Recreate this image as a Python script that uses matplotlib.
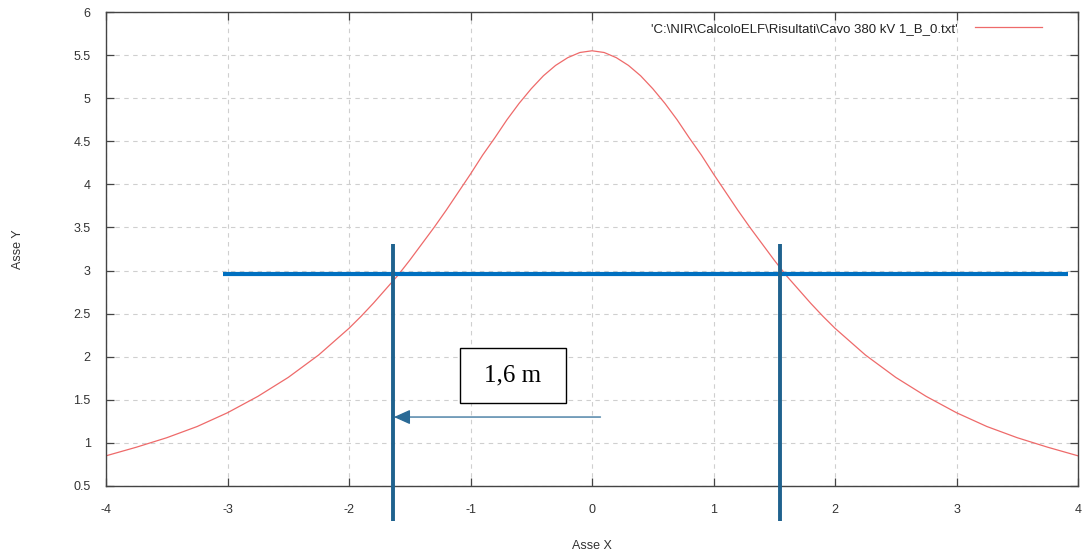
"""Profilo di campo con fascia di rispetto (stile gnuplot)."""

import matplotlib.pyplot as plt
from matplotlib.patches import Rectangle

# Valori
X_VALUES = [-4.0, -3.75, -3.5, -3.25, -3.0, -2.75, -2.5, -2.25,
            -2.0, -1.9, -1.8, -1.7, -1.6, -1.5, -1.4, -1.3, -1.2, -1.1,
            -1.0, -0.9, -0.8, -0.7, -0.6, -0.5, -0.4, -0.3, -0.2, -0.1,
            0.0, 0.1, 0.2, 0.3, 0.4, 0.5, 0.6, 0.7, 0.8, 0.9,
            1.0, 1.1, 1.2, 1.3, 1.4, 1.5, 1.6, 1.7, 1.8, 1.9,
            2.0, 2.25, 2.5, 2.75, 3.0, 3.25, 3.5, 3.75, 4.0]
Y_VALUES = [0.85, 0.95, 1.06, 1.19, 1.35, 1.54, 1.76, 2.02,
            2.33, 2.47, 2.62, 2.78, 2.94, 3.12, 3.31, 3.50, 3.70, 3.91,
            4.12, 4.34, 4.54, 4.75, 4.94, 5.11, 5.26, 5.38, 5.47, 5.53,
            5.55, 5.53, 5.47, 5.38, 5.26, 5.11, 4.94, 4.75, 4.54, 4.34,
            4.12, 3.91, 3.70, 3.50, 3.31, 3.12, 2.94, 2.78, 2.62, 2.47,
            2.33, 2.02, 1.76, 1.54, 1.35, 1.19, 1.06, 0.95, 0.85]
SERIES_LABEL = r"'C:\NIR\CalcoloELF\Risultati\Cavo 380 kV 1_B_0.txt'"

THRESHOLD = 2.96
THRESHOLD_X = [-3.04, 3.92]
LIMIT_X = [-1.64, 1.55]
LIMIT_Y = [0.09, 3.31]
ARROW_Y = 1.30
ARROW_START = 0.07
DISTANCE_LABEL = "1,6 m"
DISTANCE_POS = (-0.65, 1.78)
DISTANCE_BOX = (0.87, 0.64)

X_TICKS = [-4, -3, -2, -1, 0, 1, 2, 3, 4]
Y_TICKS = [0.5, 1, 1.5, 2, 2.5, 3, 3.5, 4, 4.5, 5, 5.5, 6]

plt.rcParams["font.family"] = ["Liberation Sans", "DejaVu Sans"]

fig = plt.figure(figsize=(10.82, 5.53), dpi=100)
ax = fig.add_axes([0.098, 0.1212, 0.8983, 0.8571])

ax.plot(X_VALUES, Y_VALUES, color="#ee6a6a", lw=0.9, label=SERIES_LABEL)

ax.set_xlim(-4, 4)
ax.set_ylim(0.5, 6)
ax.set_xticks(X_TICKS, [str(t) for t in X_TICKS])
ax.set_yticks(Y_TICKS, [f"{t:g}" for t in Y_TICKS])
ax.tick_params(direction="in", length=6, width=0.9, color="#444444",
               top=True, right=True, labelsize=9, labelcolor="#333333")
ax.tick_params(axis="x", pad=13)
ax.tick_params(axis="y", pad=11)
for spine in ax.spines.values():
    spine.set_color("#444444")
    spine.set_linewidth(1.0)
ax.grid(True, color="#cfcfcf", linestyle=(0, (4, 4)), lw=0.8)
ax.set_axisbelow(True)

ax.set_xlabel("Asse X", fontsize=9, color="#333333", labelpad=17)
ax.set_ylabel("Asse Y", fontsize=9, color="#333333", labelpad=36)

leg = ax.legend(loc="upper right", bbox_to_anchor=(0.974, 1.0), frameon=False,
                fontsize=9.5, handlelength=5.1, markerfirst=False,
                borderaxespad=0.4, handletextpad=1.3)
for text in leg.get_texts():
    text.set_color("#222222")

# annotazioni sovrapposte
ax.plot(THRESHOLD_X, [THRESHOLD, THRESHOLD], color="#0070c0", lw=3.0,
        solid_capstyle="butt", zorder=4)
for xv in LIMIT_X:
    ax.plot([xv, xv], LIMIT_Y, color="#1f628e", lw=2.8, solid_capstyle="butt",
            clip_on=False, zorder=5)
ax.annotate("", xy=(LIMIT_X[0] + 0.01, ARROW_Y), xytext=(ARROW_START, ARROW_Y),
            arrowprops=dict(arrowstyle="-|>,head_length=1.0,head_width=0.45",
                            color="#2a6a96", lw=0.9, shrinkA=0, shrinkB=0),
            zorder=5)
box_w, box_h = DISTANCE_BOX
ax.add_patch(Rectangle((DISTANCE_POS[0] - box_w / 2, DISTANCE_POS[1] - box_h / 2),
                       box_w, box_h, facecolor="white", edgecolor="black",
                       lw=1.0, zorder=6))
ax.text(*DISTANCE_POS, DISTANCE_LABEL, fontsize=18, family="Liberation Serif",
        ha="center", va="center", zorder=7)

fig.savefig("out.png", dpi=100)
